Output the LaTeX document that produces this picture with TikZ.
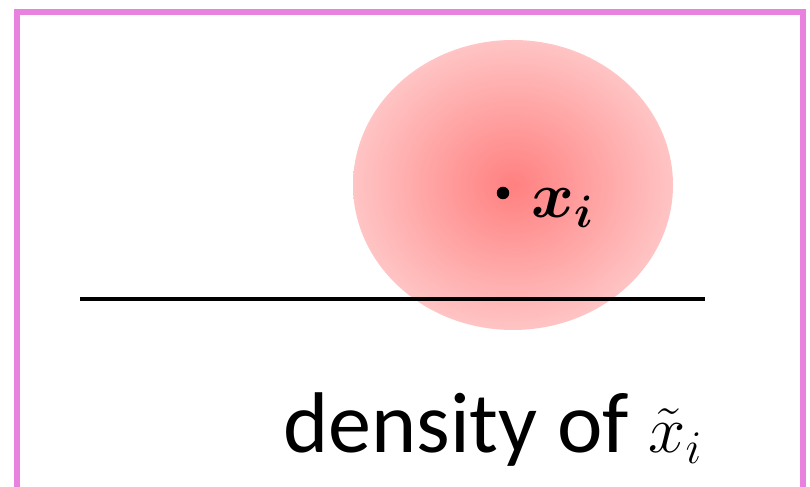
\documentclass[tikz,border=0pt]{standalone}
\usepackage{fix-cm}
\usepackage{fontspec}
\setmainfont{Carlito}
\usepackage{amsmath}
\usetikzlibrary{positioning,shapes.geometric}
\definecolor{frameviolet}{RGB}{232,130,222}
\definecolor{blobcore}{RGB}{255,128,128}
\definecolor{blobedge}{RGB}{255,196,196}
\newcommand{\mathsmall}{\fontsize{38}{44}\selectfont}
\begin{document}
\begin{tikzpicture}
        \tikzstyle{frame}=[draw=frameviolet, line width=2.9pt]
        \tikzstyle{blob}=[ellipse, minimum width=6.4cm, minimum height=5.8cm, inner color=blobcore, outer color=blobedge, inner sep=0pt]
        \tikzstyle{pointdot}=[circle, fill=black, minimum size=0.25cm, inner sep=0pt]
        \tikzstyle{pointlabel}=[font={\fontsize{37}{42}\selectfont\boldmath}, inner sep=0pt]
        \tikzstyle{captiontext}=[font={\fontsize{49}{56}\selectfont}, inner sep=0pt]
        \useasboundingbox (0,0) rectangle (16.2,9.74);

        % Frame
        \draw[frame] (0.34,9.5) -- (16.06,9.5) -- (16.06,-0.5) -- (0.34,-0.5) -- cycle;

        % Density blob
        \node[blob] (blob) at (10.26,6.04) {};
        \node[pointdot] (xi) at (10.06,5.88) {};
        \node[pointlabel, anchor=base west] (xilabel) at (10.62,5.38) {$x_i$};

        % Axis
        \coordinate (axisL) at (1.6,3.76);
        \coordinate (axisR) at (14.1,3.76);
        \draw[line width=2.3pt] (axisL) -- (axisR);

        % Caption
        \node[captiontext, anchor=base east] (caption) at (14.05,0.68) {density of {\mathsmall$\tilde{x}_i$}};
\end{tikzpicture}
\end{document}
